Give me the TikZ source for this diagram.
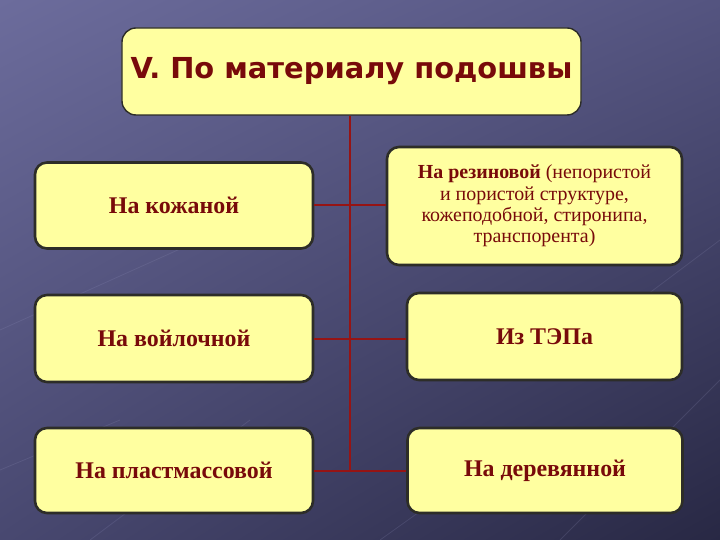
\documentclass[tikz,border=0pt]{standalone}
\usepackage{fontspec}
\setmainfont{Liberation Serif}
\newfontfamily\titlefont{DejaVu Sans}
\usetikzlibrary{calc,shadings}
\definecolor{bgUL}{RGB}{108,108,156}
\definecolor{bgUR}{RGB}{84,84,128}
\definecolor{bgLL}{RGB}{72,72,112}
\definecolor{bgLR}{RGB}{40,40,68}
\definecolor{boxfill}{RGB}{255,255,160}
\definecolor{boxedge}{RGB}{45,45,40}
\definecolor{txtred}{RGB}{120,10,10}
\definecolor{linered}{RGB}{150,20,20}
\definecolor{deco}{RGB}{150,150,190}
\begin{document}
\begin{tikzpicture}[x=1bp,y=-1bp,
  card/.style={draw=boxedge, line width=2.6bp, fill=boxfill, rounded corners=12bp,
    inner sep=0pt, align=center, text=txtred,
    font=\fontsize{24}{28}\selectfont\bfseries},
  link/.style={draw=linered, line width=2bp}]
\useasboundingbox (0,0) rectangle (720,540);
\shade[upper left=bgUL, upper right=bgUR, lower left=bgLL, lower right=bgLR] (0,0) rectangle (720,540);
% faint background decoration
\foreach \a/\b/\c/\d in {560/540/720/380, 640/300/720/240, 90/540/250/420, 0/330/200/240, 380/540/520/440, 0/470/120/420}
  \draw[deco, opacity=0.18, line width=0.8bp] (\a,\b) -- (\c,\d);
% nodes
\node[card, draw=boxedge, line width=1.4bp, rounded corners=14bp,
  minimum width=459bp, minimum height=87bp, font=\titlefont\fontsize{29}{34}\selectfont\bfseries]
  (title) at (351.5,71.5) {V. По материалу подошвы};
\node[card, minimum width=278bp, minimum height=86bp] (b1) at (174,205.5) {На кожаной};
\node[card, minimum width=295bp, minimum height=118bp, font=\fontsize{20}{21.5}\selectfont]
  (b2) at (534.5,206) {\textbf{На резиновой} (непористой\\и пористой структуре,\\кожеподобной, стиронипа,\\транспорента)};
\node[card, minimum width=278bp, minimum height=87bp] (b3) at (174,338.5) {На войлочной};
\node[card, minimum width=275bp, minimum height=87bp] (b4) at (544.5,336.5) {Из ТЭПа};
\node[card, minimum width=278bp, minimum height=85bp] (b5) at (174,470.5) {На пластмассовой};
\node[card, minimum width=275bp, minimum height=85bp] (b6) at (545,470.5) {На деревянной};
% connectors
\coordinate (spine) at (350,472);
\draw[link] (title.south -| spine) -- (spine);
\draw[link] (b1.east) -- (b1.east -| b2.west);
\draw[link] (b3.east) -- (b3.east -| b4.west);
\draw[link] (b5.east) -- (b5.east -| b6.west);
\end{tikzpicture}
\end{document}
